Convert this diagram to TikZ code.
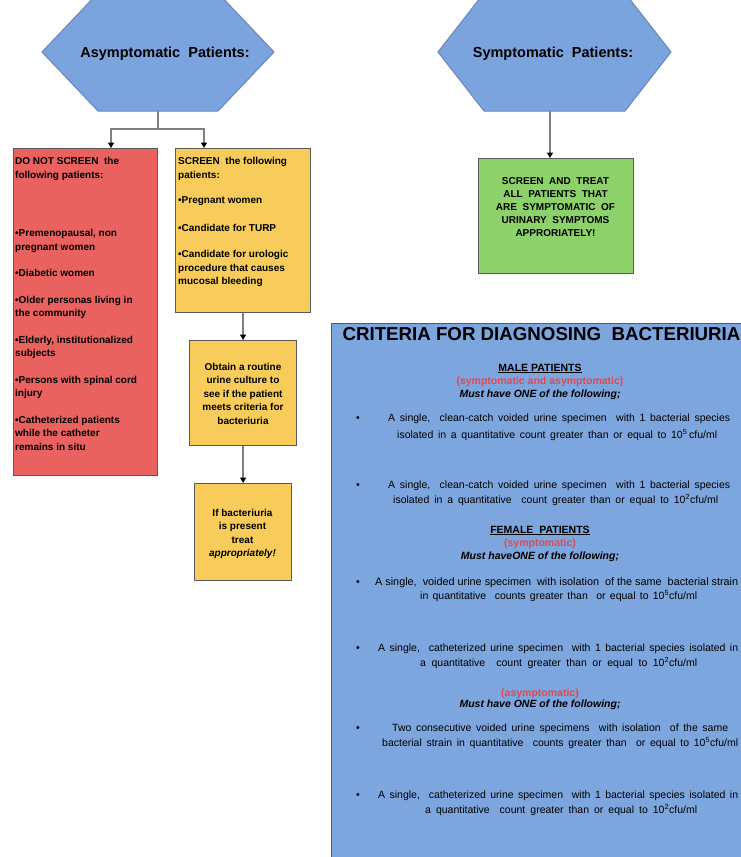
\documentclass[tikz,border=0pt]{standalone}
\usepackage{fontspec}
\setmainfont{Liberation Sans}
\usetikzlibrary{arrows.meta}
\definecolor{hexblue}{HTML}{7BA4DE}
\definecolor{hexline}{HTML}{6A86B8}
\definecolor{boxblue}{HTML}{7DA5DE}
\definecolor{redfill}{HTML}{E9625F}
\definecolor{yelfill}{HTML}{F8CC5A}
\definecolor{grnfill}{HTML}{8DD16A}
\definecolor{boxline}{HTML}{5A5A5A}
\definecolor{connc}{HTML}{808080}
\definecolor{redtxt}{HTML}{E5474F}
\newcommand{\sline}[2]{\makebox[#1][s]{#2}}
\tikzset{
  hexa/.style={fill=hexblue, draw=hexline, line width=1pt},
  boxr/.style={rectangle, draw=boxline, line width=1.2pt, inner sep=0pt, anchor=north west},
  conn/.style={draw=connc, line width=1.3pt},
  arr/.style={conn, -{Triangle[width=6pt,length=5.5pt,black]}},
  smalltxt/.style={inner sep=0pt, font=\bfseries\fontsize{10}{13.5}\selectfont},
  hextxt/.style={inner sep=0pt, anchor=base, font=\bfseries\fontsize{14.5}{16}\selectfont},
  body/.style={inner sep=0pt, anchor=base west, font=\fontsize{10.5}{12}\selectfont},
  head/.style={inner sep=0pt, anchor=base, font=\bfseries\fontsize{10.5}{12}\selectfont},
  bul/.style={inner sep=0pt, anchor=base, font=\fontsize{10.5}{12}\selectfont}
}
\begin{document}
\begin{tikzpicture}[x=1pt,y=-1pt]
\useasboundingbox (0,0) rectangle (741,857);
\clip (0,0) rectangle (741,857);
\fill[white] (0,0) rectangle (741,857);

% hexagons
\draw[hexa] (42,52) -- (98,-7) -- (218,-7) -- (274,52) -- (218,111) -- (98,111) -- cycle;
\node[hextxt] (hexL) at (165,57) {Asymptomatic\ \ Patients:};
\coordinate (hexLb) at (158,111);
\draw[hexa] (438,52) -- (484,-7) -- (625,-7) -- (671,52) -- (625,111) -- (484,111) -- cycle;
\node[hextxt] (hexR) at (553,57) {Symptomatic\ \ Patients:};
\coordinate (hexRb) at (550,111);

% boxes
\node[boxr, fill=redfill, minimum width=144pt, minimum height=327pt] (dont) at (13,148) {};
\node[boxr, fill=yelfill, minimum width=135pt, minimum height=164pt] (scr) at (175,148) {};
\node[boxr, fill=yelfill, minimum width=107pt, minimum height=105pt] (obtain) at (189,340) {};
\node[boxr, fill=yelfill, minimum width=97pt, minimum height=97pt] (treat) at (194,483) {};
\node[boxr, fill=grnfill, minimum width=155pt, minimum height=115pt] (sym) at (478,158) {};
\node[boxr, fill=boxblue, minimum width=440pt, minimum height=560pt] (crit) at (331,323) {};

% connectors
\coordinate (junc) at (158,129);
\coordinate (dontIn) at (111,148);
\coordinate (scrIn) at (204,148);
\coordinate (symIn) at (550,158);
\draw[conn] (hexLb) -- (junc);
\draw[arr] (junc) -| (dontIn);
\draw[arr] (junc) -| (scrIn);
\draw[arr] (scr.south -| obtain.north) -- (obtain.north);
\draw[arr] (obtain.south) -- (obtain.south |- treat.north);
\draw[arr] (hexRb) -- (symIn);

% red box text
\node[smalltxt, anchor=north west, align=left] (dontT) at (15,157.5) {%
DO NOT SCREEN\ \ the\\
following patients:\\[45pt]
\textbullet Premenopausal, non\\
pregnant women\\[13pt]
\textbullet Diabetic women\\[13pt]
\textbullet Older personas living in\\
the community\\[13pt]
\textbullet Elderly, institutionalized\\
subjects\\[13pt]
\textbullet Persons with spinal cord\\
injury\\[13pt]
\textbullet Catheterized patients\\
while the catheter\\
remains in situ};

% yellow box 1 text
\node[smalltxt, anchor=north west, align=left] (scrT) at (178,157.5) {%
SCREEN\ \ the following\\
patients:\\[12pt]
\textbullet Pregnant women\\[14pt]
\textbullet Candidate for TURP\\[13pt]
\textbullet Candidate for urologic\\
procedure that causes\\
mucosal bleeding};

% yellow box 2 text
\node[smalltxt, anchor=north, align=center] (obtainT) at (243,362.7) {%
Obtain a routine\\
urine culture to\\
see if the patient\\
meets criteria for\\
bacteriuria};

% yellow box 3 text
\node[smalltxt, anchor=north, align=center] (treatT) at (242.5,508.7) {%
If bacteriuria\\
is present\\
treat\\
\textit{appropriately!}};

% green box text
\node[smalltxt, anchor=north, align=center, font=\bfseries\fontsize{10}{13}\selectfont] (symT) at (555.5,177.8) {%
SCREEN\ \ AND\ \ TREAT\\
ALL\ \ PATIENTS\ \ THAT\\
ARE\ \ SYMPTOMATIC\ \ OF\\
URINARY\ \ SYMPTOMS\\
APPRORIATELY!};

% criteria box text
\node[inner sep=0pt, anchor=base, font=\bfseries\fontsize{18.7}{20}\selectfont] (title) at (541.5,340) {CRITERIA FOR DIAGNOSING\ \ BACTERIURIA};

\node[head] (maleH) at (540,371) {\underline{MALE PATIENTS}};
\node[head, text=redtxt] (maleS) at (540,384) {(symptomatic and asymptomatic)};
\node[head, font=\bfseries\itshape\fontsize{10.5}{12}\selectfont] (maleM) at (540,397) {Must have ONE of the following;};

\node[bul] (b1) at (358,421.5) {\textbullet};
\node[body] (m1a) at (388,421.5) {\sline{342pt}{A single,\ \ clean-catch voided urine specimen\ \ with 1 bacterial species}};
\node[body] (m1b) at (397,438.5) {\sline{320pt}{isolated in a quantitative count greater than or equal to 10\textsuperscript{5}\,cfu/ml}};
\node[bul] (b2) at (358,488.5) {\textbullet};
\node[body] (m2a) at (388,488.5) {\sline{342pt}{A single,\ \ clean-catch voided urine specimen\ \ with 1 bacterial species}};
\node[body] (m2b) at (393,503.5) {\sline{325pt}{isolated in a quantitative\ \ count greater than or equal to 10\textsuperscript{2}cfu/ml}};

\node[head] (femH) at (540,533) {\underline{FEMALE\ \ PATIENTS}};
\node[head, text=redtxt] (femS) at (540,546.5) {(symptomatic)};
\node[head, font=\bfseries\itshape\fontsize{10.5}{12}\selectfont] (femM) at (540,559) {Must haveONE of the following;};

\node[bul] (b3) at (358,585.5) {\textbullet};
\node[body] (f1a) at (375,585.5) {\resizebox{363pt}{!}{A single,\ \ voided urine specimen\ \ with isolation\ \ of the same\ \ bacterial strain}};
\node[body] (f1b) at (420,599.5) {\sline{277pt}{in quantitative\ \ counts greater than\ \ or equal to 10\textsuperscript{5}cfu/ml}};
\node[bul] (b4) at (358,651.5) {\textbullet};
\node[body] (f2a) at (378,651.5) {\sline{360pt}{A single,\ \ catheterized urine specimen\ \ with 1 bacterial species isolated in}};
\node[body] (f2b) at (420,666.5) {\sline{277pt}{a quantitative\ \ count greater than or equal to 10\textsuperscript{2}cfu/ml}};

\node[head, text=redtxt] (asyS) at (540,696) {(asymptomatic)};
\node[head, font=\bfseries\itshape\fontsize{10.5}{12}\selectfont] (asyM) at (540,707) {Must have ONE of the following;};

\node[bul] (b5) at (358,731.5) {\textbullet};
\node[body] (a1a) at (392,731.5) {\sline{336pt}{Two consecutive voided urine specimens\ \ with isolation\ \ of the same}};
\node[body] (a1b) at (382,746.5) {\sline{356pt}{bacterial strain in quantitative\ \ counts greater than\ \ or equal to 10\textsuperscript{5}cfu/ml}};
\node[bul] (b6) at (358,798.5) {\textbullet};
\node[body] (a2a) at (378,798.5) {\sline{360pt}{A single,\ \ catheterized urine specimen\ \ with 1 bacterial species isolated in}};
\node[body] (a2b) at (425,813.5) {\sline{272pt}{a quantitative\ \ count greater than or equal to 10\textsuperscript{2}cfu/ml}};
\end{tikzpicture}
\end{document}
